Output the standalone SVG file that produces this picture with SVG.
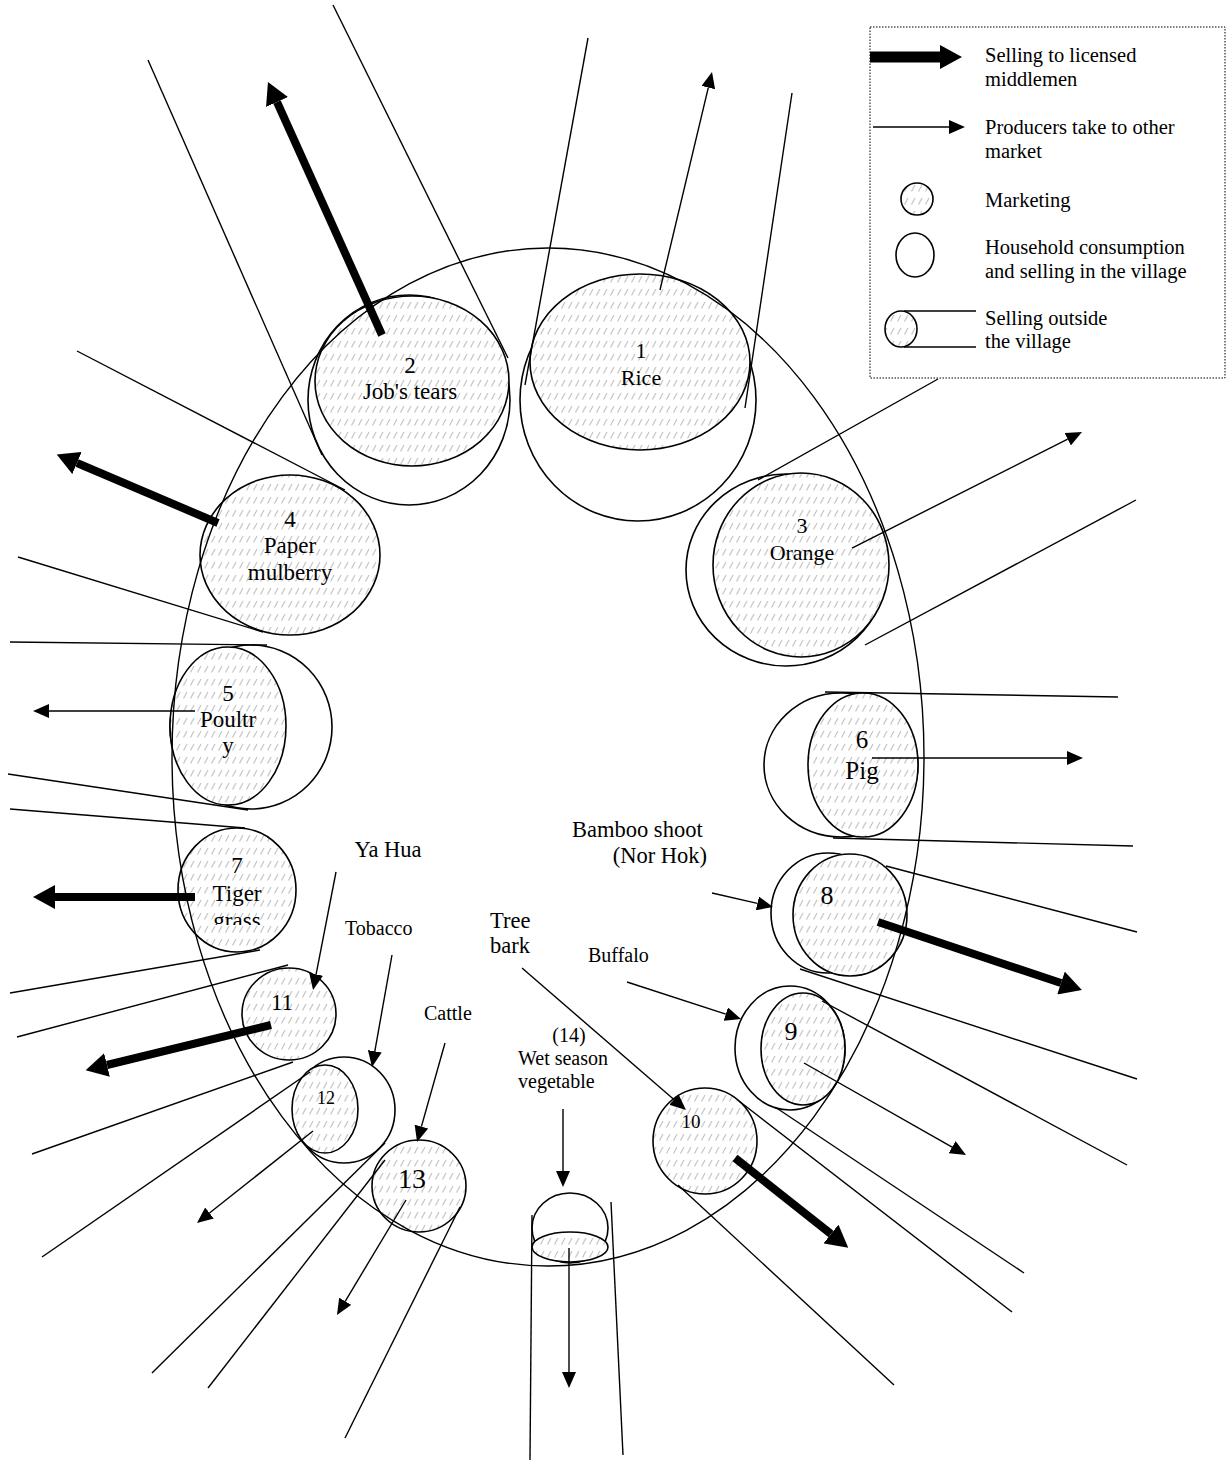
<svg xmlns="http://www.w3.org/2000/svg" width="1232" height="1465" viewBox="0 0 1232 1465">
<style>
text{font-family:"Liberation Serif","Times New Roman",serif;fill:#000;}
.m{text-anchor:middle;}
.lg{font-size:20.5px;}
.ln{stroke:#000;stroke-width:1.4;fill:none;}
.thick{stroke:#000;stroke-width:8;fill:none;marker-end:url(#hk);}
.thin{stroke:#000;stroke-width:1.4;fill:none;marker-end:url(#hn);}
.h{fill:url(#hatch);stroke:#000;stroke-width:1.6;}
.o{fill:#fff;stroke:#000;stroke-width:1.6;}
</style>
<defs>
<pattern id="hatch" width="7" height="13" patternUnits="userSpaceOnUse">
<rect width="7" height="13" fill="#fff"/>
<line x1="1.5" y1="9.5" x2="5" y2="3" stroke="#c4c4c4" stroke-width="1.2"/>
</pattern>
<marker id="hk" markerUnits="userSpaceOnUse" markerWidth="22" markerHeight="24" refX="0" refY="12" orient="auto">
<path d="M0,0 L22,12 L0,24 Z" fill="#000"/>
</marker>
<marker id="hn" markerUnits="userSpaceOnUse" markerWidth="16" markerHeight="14" refX="0" refY="7" orient="auto">
<path d="M0,0 L16,7 L0,14 Z" fill="#000"/>
</marker>
<clipPath id="c7"><rect x="170" y="820" width="140" height="105"/></clipPath>
</defs>

<g id="legend">
<rect x="870" y="27" width="355" height="351" fill="#fff" stroke="#000" stroke-width="1" stroke-dasharray="1.5,1.5"/>
<line x1="870" y1="57" x2="940" y2="57" class="thick" style="stroke-width:11"/>
<text x="985" y="62" class="lg">Selling to licensed</text>
<text x="985" y="86" class="lg">middlemen</text>
<line x1="873" y1="127" x2="949" y2="127" class="thin"/>
<text x="985" y="134" class="lg">Producers take to other</text>
<text x="985" y="158" class="lg">market</text>
<ellipse cx="917" cy="199" rx="16" ry="16" class="h"/>
<text x="985" y="207" class="lg">Marketing</text>
<ellipse cx="915" cy="255" rx="19" ry="22" class="o"/>
<text x="985" y="254" class="lg">Household consumption</text>
<text x="985" y="278" class="lg">and selling in the village</text>
<ellipse cx="901" cy="329" rx="16" ry="18" class="h"/>
<line x1="904" y1="311" x2="976" y2="311" class="ln"/>
<line x1="904" y1="347" x2="976" y2="347" class="ln"/>
<text x="985" y="325" class="lg">Selling outside</text>
<text x="985" y="348" class="lg">the village</text>
</g>

<g id="node1">
<ellipse cx="638" cy="400" rx="118" ry="121" class="o"/>
<ellipse cx="640" cy="362" rx="110" ry="88" class="h"/>
<text x="641" y="358" font-size="22" class="m">1</text>
<text x="641" y="385" font-size="22" class="m">Rice</text>
</g>
<g id="node2">
<ellipse cx="409" cy="400" rx="101" ry="105" class="o"/>
<ellipse cx="412" cy="381" rx="97" ry="85" class="h"/>
<text x="410" y="373" font-size="23" class="m">2</text>
<text x="410" y="399" font-size="23" class="m">Job's tears</text>
</g>
<g id="node3">
<ellipse cx="786" cy="570" rx="100" ry="96" class="o"/>
<ellipse cx="801" cy="565" rx="88" ry="92" class="h"/>
<text x="802" y="533" font-size="22" class="m">3</text>
<text x="802" y="560" font-size="22" class="m">Orange</text>
</g>
<g id="node4">
<ellipse cx="290" cy="555" rx="90" ry="80" class="h"/>
<text x="290" y="527" font-size="23" class="m">4</text>
<text x="290" y="553" font-size="23" class="m">Paper</text>
<text x="290" y="580" font-size="23" class="m">mulberry</text>
</g>
<g id="node5">
<ellipse cx="251" cy="727" rx="81" ry="82" class="o"/>
<ellipse cx="228" cy="726" rx="58" ry="79" class="h"/>
<text x="228" y="701" font-size="23" class="m">5</text>
<text x="228" y="727" font-size="23" class="m">Poultr</text>
<text x="228" y="753" font-size="23" class="m">y</text>
</g>
<g id="node6">
<ellipse cx="841" cy="765" rx="77" ry="72" class="o"/>
<ellipse cx="863" cy="765" rx="55" ry="72" class="h"/>
<text x="862" y="748" font-size="25" class="m">6</text>
<text x="862" y="779" font-size="25" class="m">Pig</text>
</g>
<g id="node7">
<ellipse cx="237" cy="890" rx="59" ry="62" class="h"/>
<text x="237" y="873" font-size="23" class="m">7</text>
<text x="237" y="901" font-size="23" class="m">Tiger</text>
<text x="237" y="928" font-size="23" class="m" clip-path="url(#c7)">grass</text>
</g>
<g id="node8">
<ellipse cx="828" cy="913" rx="57" ry="60" class="o"/>
<ellipse cx="850" cy="915" rx="57" ry="61" class="h"/>
<text x="827" y="904" font-size="26" class="m">8</text>
</g>
<g id="node9">
<ellipse cx="790" cy="1048" rx="55" ry="62" class="o"/>
<ellipse cx="803" cy="1049" rx="42" ry="56" class="h"/>
<text x="791" y="1040" font-size="26" class="m">9</text>
</g>
<g id="node10">
<ellipse cx="705" cy="1141" rx="52" ry="53" class="h"/>
<text x="691" y="1128" font-size="19" class="m">10</text>
</g>
<g id="node11">
<ellipse cx="289" cy="1014" rx="47" ry="46" class="h"/>
<text x="282" y="1010" font-size="23" class="m">11</text>
</g>
<g id="node12">
<ellipse cx="344" cy="1110" rx="51" ry="53" class="o"/>
<ellipse cx="325" cy="1109" rx="33" ry="44" class="h"/>
<text x="326" y="1104" font-size="18" class="m">12</text>
</g>
<g id="node13">
<ellipse cx="419" cy="1186" rx="47" ry="46" class="h"/>
<text x="412" y="1188" font-size="28" class="m">13</text>
</g>
<g id="node14">
<ellipse cx="570" cy="1228" rx="38" ry="35" class="o"/>
<ellipse cx="570" cy="1247" rx="38" ry="15" class="h"/>
</g>

<g id="village">
<ellipse cx="548" cy="757" rx="376" ry="509" fill="none" stroke="#000" stroke-width="1.4"/>
</g>

<g id="labels">
<text x="388" y="857" font-size="22.5" class="m">Ya Hua</text>
<text x="572" y="837" font-size="22.5">Bamboo shoot</text>
<text x="707" y="863" font-size="22.5" text-anchor="end">(Nor Hok)</text>
<text x="490" y="928" font-size="22.5">Tree</text>
<text x="490" y="953" font-size="22.5">bark</text>
<text x="345" y="935" font-size="20">Tobacco</text>
<text x="588" y="962" font-size="20">Buffalo</text>
<text x="424" y="1020" font-size="20">Cattle</text>
<text x="569" y="1042" font-size="20" class="m">(14)</text>
<text x="518" y="1065" font-size="20">Wet season</text>
<text x="518" y="1088" font-size="20">vegetable</text>
</g>

<g id="connectors">
<line x1="525" y1="385" x2="588" y2="38" class="ln"/>
<line x1="745" y1="408" x2="792" y2="93" class="ln"/>
<line x1="322" y1="455" x2="148" y2="60" class="ln"/>
<line x1="508" y1="358" x2="333" y2="5" class="ln"/>
<line x1="758" y1="480" x2="938" y2="379" class="ln"/>
<line x1="865" y1="645" x2="1136" y2="500" class="ln"/>
<line x1="345" y1="490" x2="77" y2="351" class="ln"/>
<line x1="263" y1="632" x2="18" y2="557" class="ln"/>
<line x1="267" y1="645" x2="10" y2="642" class="ln"/>
<line x1="248" y1="810" x2="8" y2="774" class="ln"/>
<line x1="245" y1="828" x2="10" y2="809" class="ln"/>
<line x1="260" y1="950" x2="10" y2="993" class="ln"/>
<line x1="288" y1="965" x2="17" y2="1037" class="ln"/>
<line x1="293" y1="1062" x2="32" y2="1154" class="ln"/>
<line x1="310" y1="1072" x2="42" y2="1257" class="ln"/>
<line x1="385" y1="1143" x2="152" y2="1373" class="ln"/>
<line x1="385" y1="1160" x2="208" y2="1388" class="ln"/>
<line x1="460" y1="1207" x2="345" y2="1438" class="ln"/>
<line x1="532" y1="1215" x2="530" y2="1460" class="ln"/>
<line x1="611" y1="1202" x2="623" y2="1455" class="ln"/>
<line x1="678" y1="1185" x2="894" y2="1385" class="ln"/>
<line x1="739" y1="1101" x2="1012" y2="1312" class="ln"/>
<line x1="775" y1="1107" x2="1024" y2="1273" class="ln"/>
<line x1="822" y1="1001" x2="1127" y2="1165" class="ln"/>
<line x1="800" y1="969" x2="1137" y2="1079" class="ln"/>
<line x1="886" y1="866" x2="1137" y2="932" class="ln"/>
<line x1="825" y1="692" x2="1118" y2="697" class="ln"/>
<line x1="833" y1="838" x2="1133" y2="846" class="ln"/>

<line x1="382" y1="335" x2="277" y2="102" class="thick"/>
<line x1="218" y1="523" x2="77" y2="463" class="thick"/>
<line x1="195" y1="897" x2="55" y2="897" class="thick"/>
<line x1="271" y1="1025" x2="107" y2="1065" class="thick"/>
<line x1="878" y1="922" x2="1061" y2="983" class="thick"/>
<line x1="735" y1="1158" x2="831" y2="1234" class="thick"/>

<line x1="660" y1="290" x2="708.3" y2="87.6" class="thin"/>
<line x1="852" y1="548" x2="1067.7" y2="439.2" class="thin"/>
<line x1="195" y1="711" x2="49" y2="711" class="thin"/>
<line x1="872" y1="758" x2="1067" y2="758" class="thin"/>
<line x1="804" y1="1063" x2="952.1" y2="1147.1" class="thin"/>
<line x1="313" y1="1131" x2="209.5" y2="1213.0" class="thin"/>
<line x1="406" y1="1200" x2="345.2" y2="1301.3" class="thin"/>
<line x1="569" y1="1248" x2="569" y2="1372" class="thin"/>
<line x1="336" y1="872" x2="316.1" y2="974.3" class="thin"/>
<line x1="392" y1="955" x2="374.8" y2="1051.3" class="thin"/>
<line x1="445" y1="1043" x2="421.4" y2="1126.6" class="thin"/>
<line x1="522" y1="968" x2="673.9" y2="1099.5" class="thin"/>
<line x1="627" y1="982" x2="725.8" y2="1014.1" class="thin"/>
<line x1="712" y1="893" x2="757.4" y2="903.4" class="thin"/>
<line x1="563" y1="1109" x2="563" y2="1171" class="thin"/>
</g>
</svg>
